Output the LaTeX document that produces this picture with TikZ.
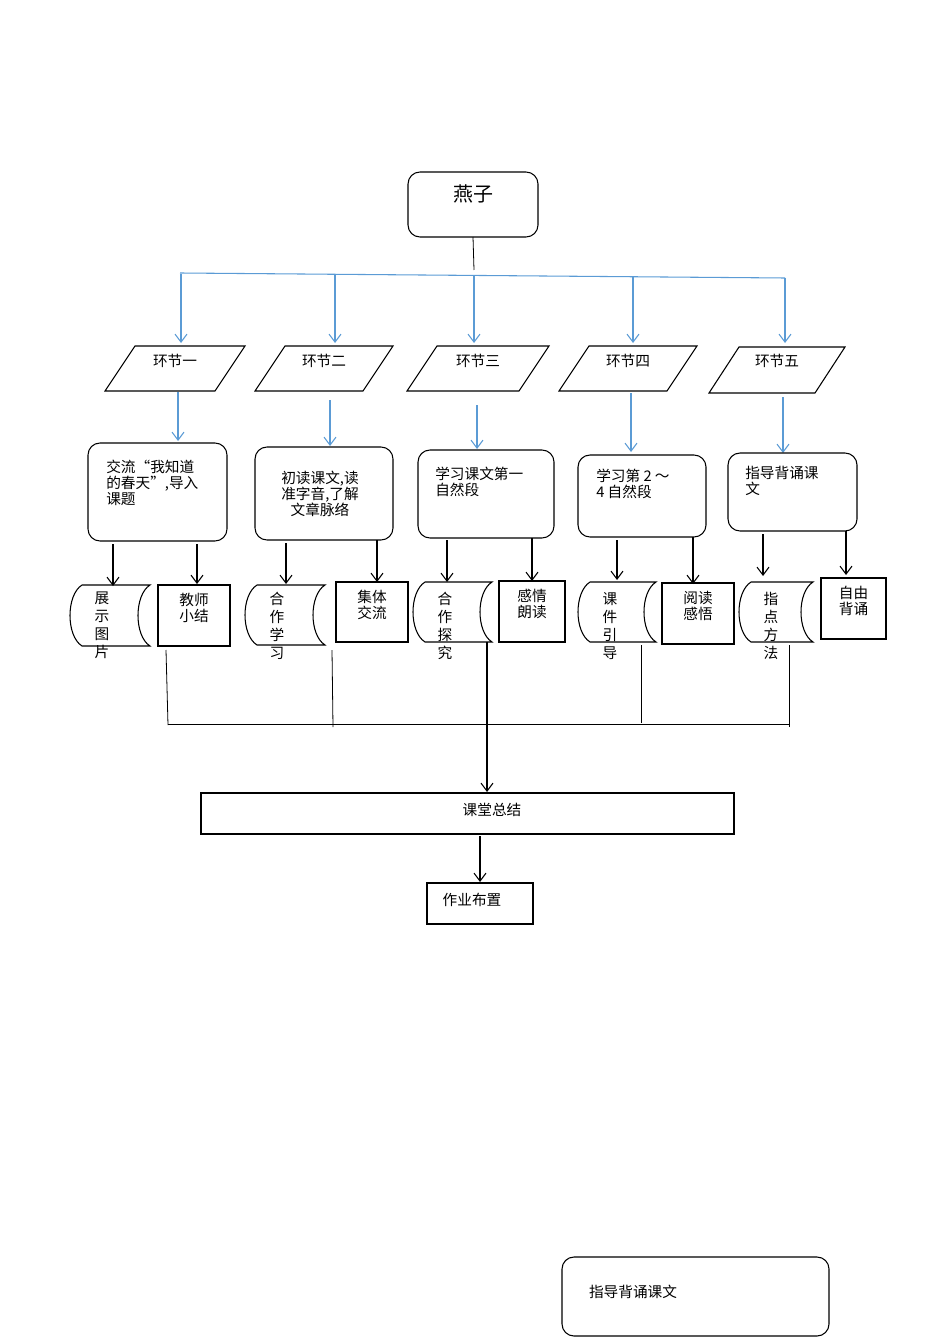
\documentclass[tikz,border=0pt]{standalone}
\usepackage{fontspec}
\setmainfont{Liberation Serif}
\newfontfamily\cjk{Noto Sans CJK SC}
\usetikzlibrary{arrows.meta}
\begin{document}
\begin{tikzpicture}[x=0.75pt,y=-0.75pt,font=\cjk\fontsize{11}{12}\selectfont,
  blk/.style={draw=black,line width=0.8pt},
  rbox/.style={blk,rounded corners=9pt},
  barr/.style={draw={rgb,255:red,91;green,155;blue,213},line width=0.8pt,-{Straight Barb[length=6pt,width=9pt]}},
  karr/.style={draw=black,line width=0.8pt,-{Straight Barb[length=6pt,width=9pt]}},
  txt/.style={inner sep=0pt,align=left}]
\useasboundingbox (0,0) rectangle (950,1344);
% title
\draw[rbox] (408,172) rectangle (538,237);
\node[txt,font=\cjk\fontsize{15}{16}\selectfont] (t) at (473,194) {燕子};
\coordinate (tb) at (473,237);
\coordinate (hl) at (180,273);
\coordinate (hr) at (785,278);
\draw[black,line width=0.6pt] (tb) -- (474,270);
\draw[draw={rgb,255:red,91;green,155;blue,213},line width=0.8pt] (hl) -- (hr);
\foreach \x/\y in {181/274,335/275,474/276,633/277,785/278}{
  \draw[barr] (\x,\y) -- (\x,343);}
% parallelograms
\foreach \a/\b/\c/\d/\t/\n in {105/245/346/391/环节一/p1,255/393/346/391/环节二/p2,407/549/346/391/环节三/p3,559/697/346/391/环节四/p4,709/845/347/393/环节五/p5}{
  \draw[blk] (\a,\d) -- (\a+30,\c) -- (\b,\c) -- (\b-30,\d) -- cycle;
  \node[txt] (\n) at ({(\a+\b)/2},361) {\t};}
\draw[barr] (178,392) -- (178,441);
\draw[barr] (330,400) -- (330,446);
\draw[barr] (477,405) -- (477,449);
\draw[barr] (631,393) -- (631,452);
\draw[barr] (783,397) -- (783,453);
% rounded boxes
\draw[rbox] (88,443) rectangle (227,541);
\node[txt,anchor=north west,font=\cjk\fontsize{11}{12}\selectfont] (A) at (106,460) {交流“我知道\\的春天”,导入\\课题};
\draw[rbox] (255,447) rectangle (393,540);
\node[txt,anchor=north,align=center] (B) at (320,471) {初读课文,读\\准字音,了解\\文章脉络};
\draw[rbox] (418,450) rectangle (554,538);
\node[txt,anchor=north west] (C) at (435,467) {学习课文第一\\自然段};
\draw[rbox] (578,455) rectangle (706,537);
\node[txt,anchor=north west] (D) at (596,469) {学习第 2 ～\\ 4 自然段};
\draw[rbox] (728,453) rectangle (857,531);
\node[txt,anchor=north west] (E) at (745,466) {指导背诵课\\文};
% arrows
\foreach \x/\y/\z in {113/544/586,197/544/584,286/543/584,377/540/582,447/540/582,532/538/581,617/540/580,693/537/584,763/534/576,846/531/575}{
  \draw[karr] (\x,\y) -- (\x,\z);}
% stored data shapes
\foreach \a/\b/\c/\d/\t/\n in {70/150/585/646/展\\示\\图\\片/s1,245/325/585/645/合\\作\\学\\习/s2,413/492/582/642/合\\作\\探\\究/s3,578/656/582/642/课\\件\\引\\导/s4,739/813/582/642/指\\点\\方\\法/s5}{
  \draw[blk] (\a+12,\c) -- (\b,\c) .. controls (\b-16,\c+10) and (\b-16,\d-10) .. (\b,\d) -- (\a+12,\d) .. controls (\a-4,\d-10) and (\a-4,\c+10) .. (\a+12,\c);
  \node[txt,anchor=north,align=center,font=\cjk\fontsize{11}{13.5}\selectfont] (\n) at ({\a+32},592) {\t};}
\foreach \a/\b/\c/\d/\t/\n in {158/230/585/646/教师\\小结/r1,336/408/582/642/集体\\交流/r2,499/565/581/642/感情\\朗读/r3,662/734/583/644/阅读\\感悟/r4,821/886/578/639/自由\\背诵/r5}{
  \draw[blk] (\a,\c) rectangle (\b,\d);
  \node[txt,anchor=north,align=center] (\n) at ({(\a+\b)/2},\c+8) {\t};}
% bottom connectors
\draw[black,line width=0.6pt] (166,650) -- (168,725);
\draw[black,line width=0.6pt] (332,650) -- (333,727);
\draw[black,line width=0.6pt] (641,645) -- (641,723);
\draw[black,line width=0.6pt] (789,645) -- (789,727);
\draw[black,line width=0.6pt] (168,724) -- (789,724);
\draw[karr] (487,642) -- (487,792);
\draw[blk] (201,793) rectangle (734,834);
\node[txt] (S) at (492,810) {课堂总结};
\draw[karr] (480,836) -- (480,882);
\draw[blk] (427,883) rectangle (533,924);
\node[txt] (H) at (472,900) {作业布置};
\draw[rbox] (562,1257) rectangle (829,1336);
\node[txt] (Z) at (633,1292) {指导背诵课文};
\end{tikzpicture}
\end{document}
